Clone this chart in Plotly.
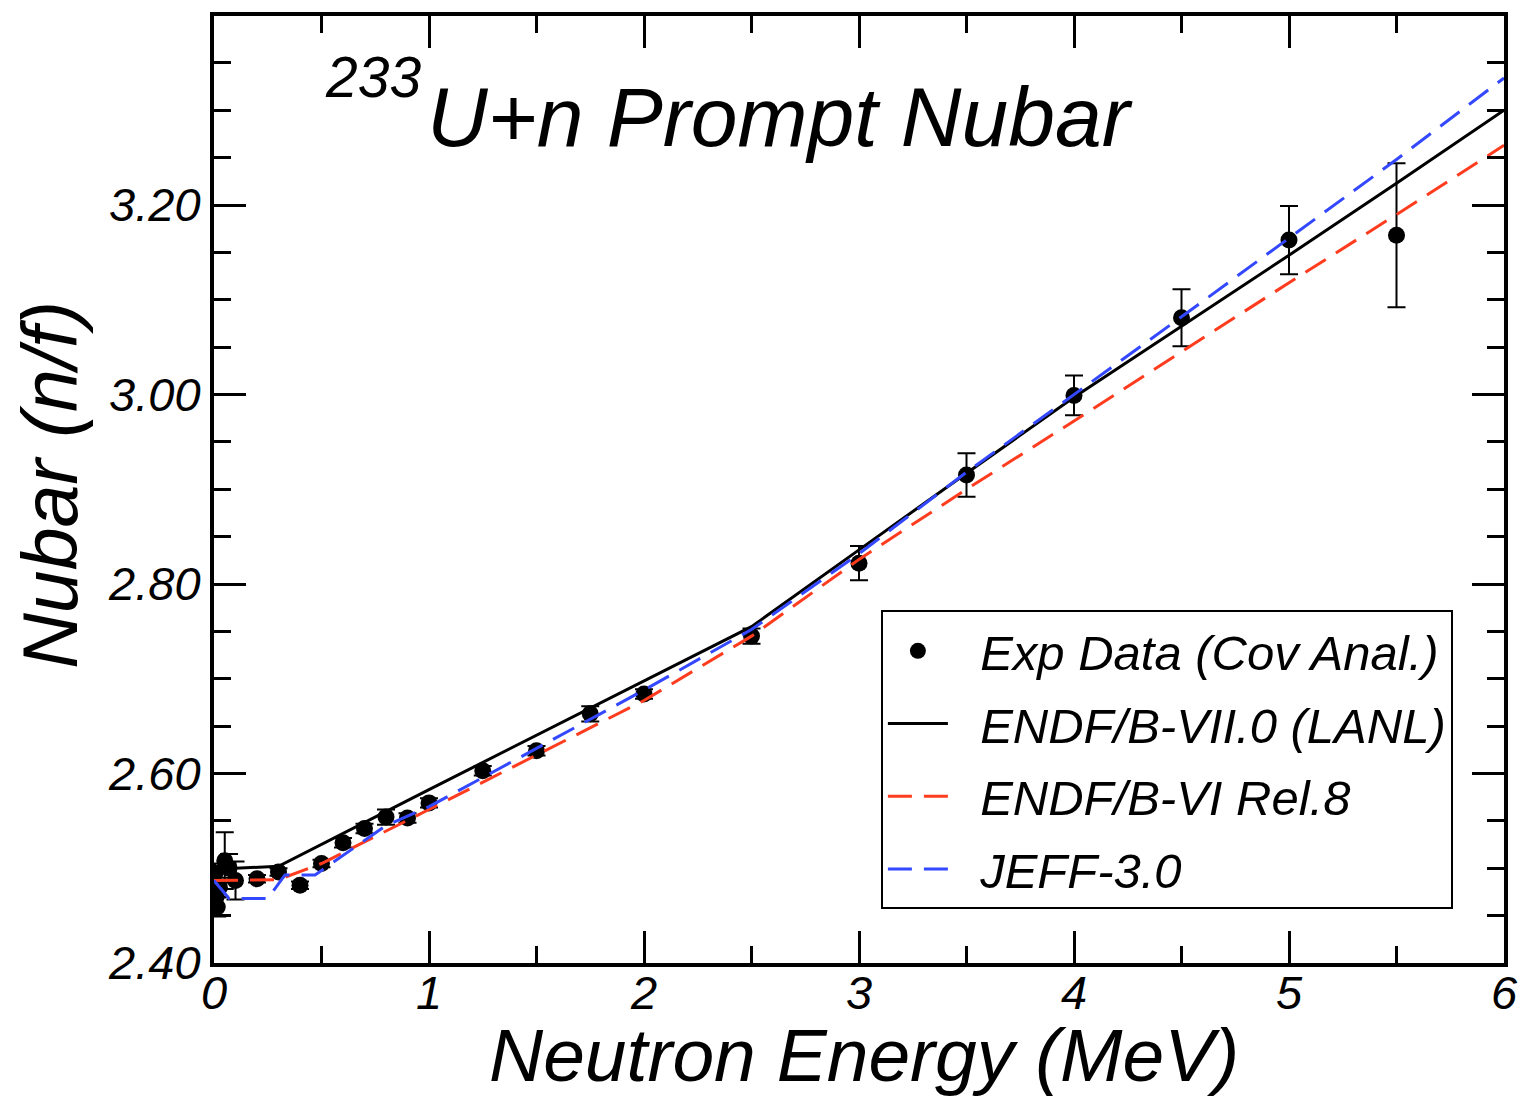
import plotly.graph_objects as go

# ---- data ----
exp_E = [0.005, 0.01, 0.015, 0.025, 0.05, 0.07, 0.1, 0.2, 0.3, 0.4, 0.5, 0.6, 0.7, 0.8, 0.9, 1.0,
         1.25, 1.5, 1.75, 2.0, 2.5, 3.0, 3.5, 4.0, 4.5, 5.0, 5.5]
exp_nu = [2.495, 2.470, 2.459, 2.480, 2.508, 2.500, 2.487, 2.489, 2.496, 2.482, 2.505, 2.527, 2.542,
          2.554, 2.553, 2.569, 2.603, 2.624, 2.663, 2.684, 2.745, 2.822, 2.915, 2.999, 3.081, 3.163, 3.168]
exp_err = [0.01, 0.01, 0.01, 0.01, 0.03, 0.015, 0.02, 0.004, 0.004, 0.004, 0.004, 0.005, 0.005, 0.008,
           0.005, 0.005, 0.005, 0.005, 0.008, 0.005, 0.008, 0.018, 0.023, 0.021, 0.030, 0.036, 0.076]

endf7_E = [0, 0.3, 1.0, 2.0, 2.5, 3.0, 3.5, 4.0, 4.5, 5.0, 5.5, 6.0]
endf7_nu = [2.499, 2.502, 2.583, 2.698, 2.755, 2.836, 2.917, 2.997, 3.072, 3.147, 3.223, 3.300]

endf6_E = [0, 0.3, 0.5, 1.0, 2.0, 2.5, 3.0, 3.5, 4.0, 4.5, 5.0, 5.5, 6.0]
endf6_nu = [2.487, 2.488, 2.505, 2.562, 2.677, 2.745, 2.826, 2.900, 2.972, 3.045, 3.118, 3.190, 3.263]

jeff_E = [0, 0.07, 0.25, 0.33, 0.47, 0.8, 1.0, 2.0, 2.5, 3.0, 3.5, 4.0, 4.5, 5.0, 5.5, 6.0]
jeff_nu = [2.487, 2.468, 2.468, 2.493, 2.493, 2.545, 2.565, 2.688, 2.752, 2.832, 2.918, 3.000, 3.082,
           3.165, 3.248, 3.334]

FONT = "Liberation Sans"
GAP = "\u00a0\u00a0"

fig = go.Figure()
fig.add_trace(go.Scatter(
    x=exp_E, y=exp_nu, mode="markers", name=GAP + "Exp Data (Cov Anal.)",
    marker=dict(color="black", size=17),
    error_y=dict(type="data", array=exp_err, color="black", thickness=2, width=9),
    legendgroup="a"))
fig.add_trace(go.Scatter(
    x=endf7_E, y=endf7_nu, mode="lines", name=GAP + "ENDF/B-VII.0 (LANL)",
    line=dict(color="black", width=3), legendgroup="b"))
fig.add_trace(go.Scatter(
    x=endf6_E, y=endf6_nu, mode="lines", name=GAP + "ENDF/B-VI Rel.8",
    line=dict(color="#ff3c1e", width=3, dash="24px,12px"), legendgroup="c"))
fig.add_trace(go.Scatter(
    x=jeff_E, y=jeff_nu, mode="lines", name=GAP + "JEFF-3.0",
    line=dict(color="#3348ff", width=3, dash="24px,12px"), legendgroup="d"))

axis_common = dict(
    showline=True, linecolor="black", linewidth=4, mirror="allticks",
    ticks="inside", ticklen=32, tickwidth=3, tickcolor="black",
    showgrid=False, zeroline=False,
    tickfont=dict(family=FONT, size=47, color="black", style="italic"),
)

fig.update_xaxes(range=[0, 6], dtick=1, tick0=0, ticklabelstandoff=-14,
                 minor=dict(dtick=0.5, ticks="inside", ticklen=17, tickwidth=3, tickcolor="black"),
                 **axis_common)
fig.update_yaxes(range=[2.4, 3.3995], dtick=0.2, tick0=2.4, tickformat=".2f",
                 minor=dict(dtick=0.05, ticks="inside", ticklen=17, tickwidth=3, tickcolor="black"),
                 **axis_common)

def px_x(p):
    return (p - 212) / 1296.0

def px_y(p):
    return (963 - p) / 951.0

annos = [
    dict(text="U+n Prompt Nubar", x=px_x(424), y=px_y(113), xanchor="left", yanchor="middle",
         font=dict(family=FONT, size=84, color="black", style="italic")),
    dict(text="233", x=px_x(322), y=px_y(73), xanchor="left", yanchor="middle",
         font=dict(family=FONT, size=57, color="black", style="italic")),
    dict(text="Neutron Energy (MeV)", x=px_x(865), y=px_y(1055), xanchor="center", yanchor="middle",
         font=dict(family=FONT, size=75, color="black", style="italic")),
    dict(text="Nubar (n/f)", x=px_x(47), y=px_y(483), xanchor="center", yanchor="middle",
         textangle=-90, font=dict(family=FONT, size=77, color="black", style="italic")),
]
for a in annos:
    a.update(xref="paper", yref="paper", showarrow=False)

fig.update_layout(
    width=1530, height=1098,
    margin=dict(l=214, r=20, t=12, b=135),
    paper_bgcolor="white", plot_bgcolor="white",
    annotations=annos,
    showlegend=True,
    legend=dict(
        x=px_x(882), y=px_y(609), xanchor="left", yanchor="top",
        bgcolor="white", bordercolor="black", borderwidth=2,
        font=dict(family=FONT, size=49, color="black", style="italic"),
        traceorder="grouped", tracegroupgap=6, itemwidth=60,
    ),
)

fig.write_html("out.html", config={"displayModeBar": False},
               post_script="document.body.style.margin='0';document.body.style.padding='0';")
